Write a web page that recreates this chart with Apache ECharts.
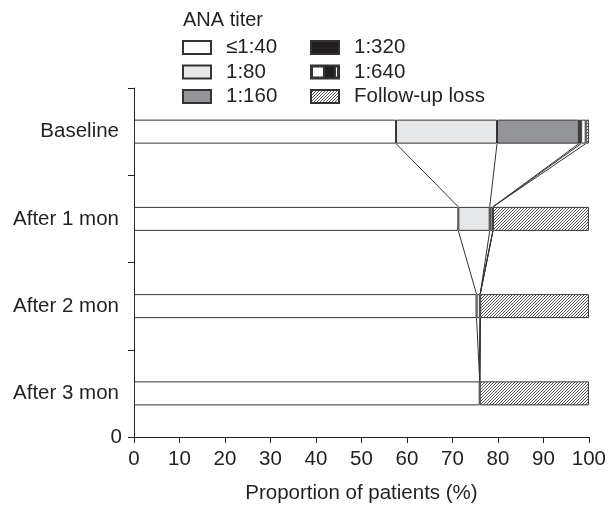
<!DOCTYPE html>
<html><head><meta charset="utf-8">
<script src="https://cdn.jsdelivr.net/npm/echarts@6/dist/echarts.min.js"></script>
<style>html,body{margin:0;padding:0;background:#fff}#c{width:609px;height:509px}</style>
</head><body><div id="c"></div>
<script>
// ---- data ----
var categories = ['Baseline', 'After 1 mon', 'After 2 mon', 'After 3 mon'];
var seriesNames = ['≤1:40', '1:80', '1:160', '1:320', '1:640', 'Follow-up loss'];
var titer40   = [57.6, 71.3, 75.3, 76.0];
var titer80   = [22.2, 6.9, 0.8, 0];
var titer160  = [18.0, 0.7, 0, 0];
var titer320  = [0.5, 0, 0, 0];
var titer640  = [1.0, 0, 0, 0];
var followLoss= [0.7, 21.1, 23.9, 24.0];
var xTicks = [0, 10, 20, 30, 40, 50, 60, 70, 80, 90, 100];

var seriesValues = [titer40, titer80, titer160, titer320, titer640, followLoss];

// hatch pattern
function hatch() {
  var c = document.createElement('canvas');
  c.width = 3; c.height = 3;
  var g = c.getContext('2d');
  g.fillStyle = '#ffffff'; g.fillRect(0, 0, 3, 3);
  g.strokeStyle = '#444'; g.lineWidth = 0.9;
  g.beginPath();
  g.moveTo(-1, 4); g.lineTo(4, -1);
  g.moveTo(-1, 1); g.lineTo(1, -1);
  g.moveTo(2, 4); g.lineTo(4, 2);
  g.stroke();
  return c;
}
var colors = ['#ffffff', '#e6e7e8', '#939598', '#231f20', '#ffffff', {image: hatch(), repeat: 'repeat'}];

var BAR = 24;
var series = seriesNames.map(function (n, k) {
  return {
    name: n, type: 'bar', stack: 'all', barWidth: BAR,
    itemStyle: {color: colors[k], borderColor: '#333', borderWidth: 1},
    data: seriesValues[k].map(function (v) { return v > 0 ? v : '-'; })
  };
});

// connector lines between cumulative boundaries of consecutive bars
var cum = categories.map(function (_, i) {
  var s = 0, out = [];
  for (var k = 0; k < 5; k++) { s += seriesValues[k][i]; out.push(s); }
  return out;
});
var connData = [];
for (var i = 0; i < categories.length - 1; i++) {
  for (var k = 0; k < 5; k++) {
    connData.push([cum[i][k], cum[i + 1][k], i]);
  }
}
series.push({
  type: 'custom', name: 'conn', silent: true,
  encode: {x: [0, 1], y: 2},
  data: connData,
  renderItem: function (params, api) {
    var p0 = api.coord([api.value(0), api.value(2)]);
    var p1 = api.coord([api.value(1), api.value(2) + 1]);
    return {
      type: 'line',
      shape: {x1: p0[0], y1: p0[1] + BAR / 2, x2: p1[0], y2: p1[1] - BAR / 2},
      style: {stroke: '#333', lineWidth: 1}
    };
  }
});

var font = 'Liberation Sans, Arial, sans-serif';
var FS = 20.5;
var txt = {fontFamily: font, fontSize: FS, color: '#231f20'};
var p640 = 'path://M0 0L28 0L28 13L0 13Z M1 1L1 12L13 12L13 1Z M24 1L24 12L27 12L27 1Z';

var chart = echarts.init(document.getElementById('c'), null, {renderer: 'canvas'});
chart.setOption({
  animation: false,
  backgroundColor: '#fff',
  title: {text: 'ANA titer', left: 178, top: 5, textStyle: Object.assign({}, txt, {fontWeight: 'normal', fontSize: 20})},
  legend: [
    {data: seriesNames.slice(0, 3), orient: 'vertical', left: 177, top: 32, icon: 'rect',
     itemWidth: 28, itemHeight: 13, itemGap: 3.5, textStyle: Object.assign({padding: [0, 0, 0, 10]}, txt), selectedMode: false},
    {data: [seriesNames[3], {name: seriesNames[4], icon: p640, itemStyle: {color: '#231f20'}}, seriesNames[5]],
     orient: 'vertical', left: 305, top: 32, icon: 'rect',
     itemWidth: 28, itemHeight: 13, itemGap: 3.5, textStyle: Object.assign({padding: [0, 0, 0, 10]}, txt), selectedMode: false}
  ],
  grid: {left: 134, right: 19, top: 88, bottom: 69},
  xAxis: {
    type: 'value', min: 0, max: 100, interval: 10,
    name: 'Proportion of patients (%)', nameLocation: 'middle', nameGap: 46, nameTextStyle: txt,
    axisLine: {show: true, lineStyle: {color: '#231f20'}},
    axisTick: {show: true, length: 6, lineStyle: {color: '#231f20'}},
    axisLabel: Object.assign({margin: 12, formatter: function (v) { return xTicks.indexOf(v) >= 0 ? String(v) : ''; }}, txt),
    splitLine: {show: false}
  },
  yAxis: [{
    type: 'category', data: categories, inverse: true,
    axisLine: {show: true, lineStyle: {color: '#231f20'}},
    axisTick: {show: true, length: 6, lineStyle: {color: '#231f20'}},
    axisLabel: Object.assign({margin: 15}, txt)
  }, {
    type: 'value', min: 0, max: 1, interval: 1, position: 'left',
    axisLine: {show: false}, axisTick: {show: false}, splitLine: {show: false},
    axisLabel: Object.assign({margin: 12, formatter: function (v) { return v === 0 ? '0' : ''; }}, txt)
  }],
  series: series
});
</script></body></html>
